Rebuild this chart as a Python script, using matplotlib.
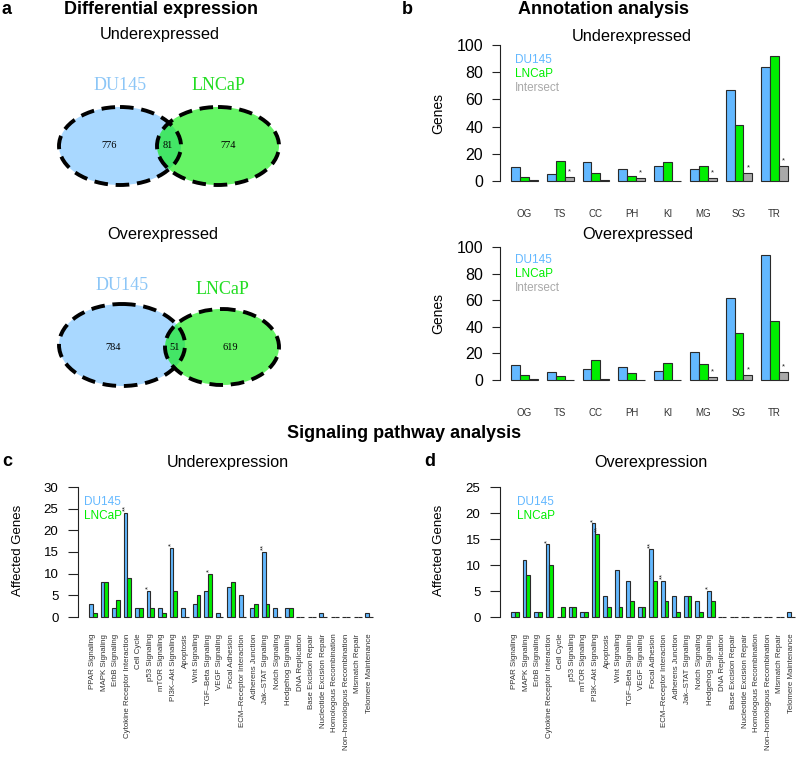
import numpy as np
import matplotlib
matplotlib.use("Agg")
import matplotlib.pyplot as plt
from matplotlib.patches import Ellipse

plt.rcParams['font.family'] = ['Liberation Sans', 'DejaVu Sans']

# venn counts: DU145 only, both, LNCaP only
venn_under = [776, 81, 774]
venn_over = [784, 51, 619]

annot_cats = ['OG', 'TS', 'CC', 'PH', 'KI', 'MG', 'SG', 'TR']
annot_under_du = [10, 5, 14, 9, 11, 9, 67, 84]
annot_under_ln = [3, 15, 6, 4, 14, 11, 41, 92]
annot_under_int = [1, 3, 1, 2, 0, 2, 6, 11]
annot_under_sig = ['', '*', '', '*', '', '*', '*', '*']
annot_over_du = [11, 6, 8, 10, 7, 21, 62, 94]
annot_over_ln = [4, 3, 15, 5, 13, 12, 35, 44]
annot_over_int = [1, 0, 1, 0, 0, 2, 4, 6]
annot_over_sig = ['', '', '', '', '', '*', '*', '*']

pathways = ['PPAR Signaling', 'MAPK Signaling', 'ErbB Signaling',
            'Cytokine Receptor Interaction', 'Cell Cycle', 'p53 Signaling',
            'mTOR Signaling', 'PI3K\u2013Akt Signaling', 'Apoptosis',
            'Wnt Signaling', 'TGF\u2013Beta Signaling', 'VEGF Signaling',
            'Focal Adhesion', 'ECM\u2013Receptor Interaction', 'Adherens Junction',
            'Jak\u2013STAT Signaling', 'Notch Signaling', 'Hedgehog Signaling',
            'DNA Replication', 'Base Excision Repair', 'Nucleotide Excision Repair',
            'Homologous Recombination', 'Non\u2013homologous Recombination',
            'Mismatch Repair', 'Telomere Maintenance']
path_under_du = [3, 8, 2, 24, 2, 6, 2, 16, 2, 3, 6, 1, 7, 5, 2, 15, 2, 2, 0, 0, 1, 0, 0, 0, 1]
path_under_ln = [1, 8, 4, 9, 2, 2, 1, 6, 0, 5, 10, 0, 8, 0, 3, 3, 0, 2, 0, 0, 0, 0, 0, 0, 0]
path_under_sig_du = ['', '', '', '**', '', '*', '', '*', '', '', '', '', '',
                     '', '', '**', '', '', '', '', '', '', '', '', '']
path_under_sig_ln = ['', '', '', '', '', '', '', '', '', '', '*', '', '',
                     '', '', '', '', '', '', '', '', '', '', '', '']
path_over_du = [1, 11, 1, 14, 0, 2, 1, 18, 4, 9, 7, 2, 13, 7, 4, 4, 3, 5, 0, 0, 0, 0, 0, 0, 1]
path_over_ln = [1, 8, 1, 10, 2, 2, 1, 16, 2, 2, 3, 2, 7, 3, 1, 4, 1, 3, 0, 0, 0, 0, 0, 0, 0]
path_over_sig_du = ['', '', '', '*', '', '', '', '*', '', '', '', '', '**',
                    '**', '', '', '', '*', '', '', '', '', '', '', '']
path_over_sig_ln = ['', '', '', '', '', '', '', '**', '', '', '', '', '',
                    '', '', '', '', '', '', '', '', '', '', '', '']

BLUE = '#63B8FF'
GREEN = '#00EE00'
GRAY = '#A9A9A9'
EDGE = '#2a2a2a'

W, H = 798, 758
fig = plt.figure(figsize=(W / 100, H / 100), dpi=100)

bg = fig.add_axes([0, 0, 1, 1])
bg.set_xlim(0, W)
bg.set_ylim(H, 0)
bg.axis('off')


def px_axes(l, t, r, b):
    return fig.add_axes([l / W, 1 - b / H, (r - l) / W, (b - t) / H])


def bar_panel(l, t, r, b, x0, s, ymax, step, series, colors, sigs, labels,
              tick_fs, tick_len, tick_pad, lab_fs, lab_pad, rot, sig_rot):
    ax = px_axes(l, t, r, b)
    nb = len(series)
    ng = len(labels)
    g = np.arange(ng)
    for i, (vals, c) in enumerate(zip(series, colors)):
        lefts = 1 + g * (nb + 1) + i
        ax.bar(lefts, vals, width=1, align='edge', color=c, edgecolor=EDGE,
               linewidth=0.8, clip_on=False)
        if sigs[i] is not None:
            for x, v, sg in zip(lefts, vals, sigs[i]):
                if sg:
                    ax.text(x + 0.5, v + ymax * 0.012, sg, rotation=sig_rot,
                            ha='center', va='bottom', fontsize=5.5,
                            color='#222222')
    ax.set_xlim(1 - (x0 - l) / s, 1 + (r - x0) / s)
    ax.set_ylim(0, ymax)
    ax.set_yticks(np.arange(0, ymax + 1, step))
    ax.tick_params(axis='y', labelsize=tick_fs, length=tick_len, width=0.8,
                   color='#222222', pad=tick_pad)
    ax.set_xticks(1 + g * (nb + 1) + nb / 2, labels, rotation=rot,
                  fontsize=lab_fs, color='#333333')
    ax.tick_params(axis='x', length=0, pad=lab_pad)
    for sp in ['top', 'right', 'bottom']:
        ax.spines[sp].set_visible(False)
    ax.spines['left'].set_linewidth(0.8)
    ax.spines['left'].set_color('#222222')
    ax.patch.set_visible(False)
    return ax


# ---- panel a: venn diagrams
def venn(cy_b, cx_b, wb, hb, cy_g, cx_g, wg, hg, counts, num_y, num_x,
         lab_y):
    bg.add_patch(Ellipse((cx_b, cy_b), wb, hb, facecolor=BLUE, alpha=0.55,
                         edgecolor='none'))
    bg.add_patch(Ellipse((cx_g, cy_g), wg, hg, facecolor=GREEN, alpha=0.6,
                         edgecolor='none'))
    for cx, cy, w, h in [(cx_b, cy_b, wb, hb), (cx_g, cy_g, wg, hg)]:
        bg.add_patch(Ellipse((cx, cy), w, h, facecolor='none',
                             edgecolor='black', linewidth=2.8,
                             linestyle=(0, (3.5, 2))))
    for x, n in zip(num_x, counts):
        bg.text(x, num_y, str(n), ha='center', va='center', fontsize=7.5,
                family='Liberation Serif')
    bg.text(cx_b, lab_y[0], 'DU145', ha='center', va='center', fontsize=13,
            color='#8cc6f7', family='Liberation Serif')
    bg.text(cx_g, lab_y[1], 'LNCaP', ha='center', va='center', fontsize=13,
            color='#22dd22', family='Liberation Serif')


venn(146, 120, 122, 78, 146, 218, 122, 78, venn_under, 146,
     [109, 168, 228], [86, 86])
venn(345, 122, 126, 82, 347, 222, 114, 76, venn_over, 347,
     [113, 175, 230], [285, 289])

bg.text(2, 10, 'a', fontsize=13, fontweight='bold', va='center')
bg.text(161, 10, 'Differential expression', fontsize=13, fontweight='bold',
        ha='center', va='center')
bg.text(160, 35, 'Underexpressed', fontsize=11.8, ha='center', va='center')
bg.text(163, 235, 'Overexpressed', fontsize=11.8, ha='center', va='center')

# ---- panel b: annotation
bg.text(402, 10, 'b', fontsize=13, fontweight='bold', va='center')
bg.text(603, 10, 'Annotation analysis', fontsize=13, fontweight='bold',
        ha='center', va='center')
bg.text(632, 36, 'Underexpressed', fontsize=11.8, ha='center', va='center')
bg.text(638, 235, 'Overexpressed', fontsize=11.8, ha='center', va='center')

for (t, b, du, ln, it, sg, ly) in [
        (45, 181, annot_under_du, annot_under_ln, annot_under_int,
         annot_under_sig, 60),
        (247, 380, annot_over_du, annot_over_ln, annot_over_int,
         annot_over_sig, 260)]:
    bar_panel(500, t, 795, b, 511, 8.94, 100, 20, [du, ln, it],
              [BLUE, GREEN, GRAY], [None, None, sg], annot_cats,
              11.5, 6, 6, 7, 20, 0, 0)
    bg.text(438, (t + b) / 2, 'Genes', rotation=90, fontsize=10,
            ha='center', va='center')
    for k, (name, c) in enumerate([('DU145', BLUE), ('LNCaP', GREEN),
                                   ('Intersect', GRAY)]):
        bg.text(515, ly + k * 13.8, name, color=c, fontsize=8.5, va='center')

# ---- panels c, d: signaling pathways
bg.text(404, 434, 'Signaling pathway analysis', fontsize=13,
        fontweight='bold', ha='center', va='center')
bg.text(2, 461, 'c', fontsize=13, fontweight='bold', va='center')
bg.text(424, 461, 'd', fontsize=13, fontweight='bold', va='center')
bg.text(228, 462, 'Underexpression', fontsize=11.6, ha='center', va='center')
bg.text(651, 462, 'Overexpression', fontsize=11.6, ha='center', va='center')

for (l, x0, ymax, du, ln, sdu, sln, ylx, lgx) in [
        (78, 89, 30, path_under_du, path_under_ln, path_under_sig_du,
         path_under_sig_ln, 18, 84),
        (500, 511, 25, path_over_du, path_over_ln, path_over_sig_du,
         path_over_sig_ln, 439, 517)]:
    bar_panel(l, 487, l + 297, 617, x0, 3.84, ymax, 5, [du, ln],
              [BLUE, GREEN], [sdu, sln], pathways, 9.5, 7, 7, 5.7, 12, 90, 90)
    bg.text(ylx, 550, 'Affected Genes', rotation=90, fontsize=9.5,
            ha='center', va='center')
    bg.text(lgx, 502, 'DU145', color=BLUE, fontsize=8.5, va='center')
    bg.text(lgx, 516, 'LNCaP', color=GREEN, fontsize=8.5, va='center')

fig.savefig('out.png', dpi=100)
